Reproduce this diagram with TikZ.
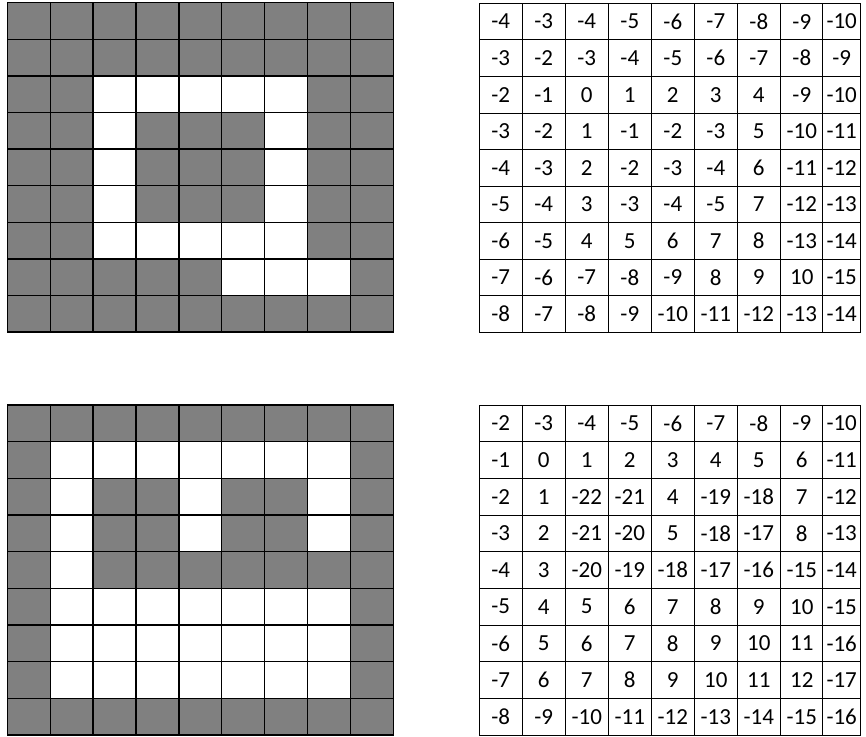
\documentclass[tikz,border=0pt]{standalone}
\usepackage{fontspec}
\setmainfont{Carlito}
\definecolor{cellgrey}{HTML}{808080}
\begin{document}
\begin{tikzpicture}[x=1pt, y=-1pt,
    gridline/.style={black, line width=1.3pt, line cap=rect},
    tableline/.style={black, line width=0.9pt, line cap=rect},
    numcell/.style={inner sep=0pt, font=\fontsize{23}{27}\selectfont}]
    \useasboundingbox (0,0) rectangle (866,736);

    % Top left grid: grey and white cells
    \foreach \pattern [count=\i] in {
        {1,1,1,1,1,1,1,1,1},
        {1,1,1,1,1,1,1,1,1},
        {1,1,0,0,0,0,0,1,1},
        {1,1,0,1,1,1,0,1,1},
        {1,1,0,1,1,1,0,1,1},
        {1,1,0,1,1,1,0,1,1},
        {1,1,0,0,0,0,0,1,1},
        {1,1,1,1,1,0,0,0,1},
        {1,1,1,1,1,1,1,1,1}}
        \foreach \c [count=\j] in \pattern {
            \ifnum\c=1
                \fill[cellgrey] ({7.3+42.89*(\j-1)},{2.7+36.6*(\i-1)}) rectangle ++(42.89,36.6);
            \fi
        }
    \foreach \k in {0,...,9} {
        \draw[gridline] ({7.3+42.89*\k},2.7) -- ({7.3+42.89*\k},332.1);
        \draw[gridline] (7.3,{2.7+36.6*\k}) -- (393.3,{2.7+36.6*\k});
    }

    % Bottom left grid
    \foreach \pattern [count=\i] in {
        {1,1,1,1,1,1,1,1,1},
        {1,0,0,0,0,0,0,0,1},
        {1,0,1,1,0,1,1,0,1},
        {1,0,1,1,0,1,1,0,1},
        {1,0,1,1,1,1,1,1,1},
        {1,0,0,0,0,0,0,0,1},
        {1,0,0,0,0,0,0,0,1},
        {1,0,0,0,0,0,0,0,1},
        {1,1,1,1,1,1,1,1,1}}
        \foreach \c [count=\j] in \pattern {
            \ifnum\c=1
                \fill[cellgrey] ({7.3+42.89*(\j-1)},{405+36.67*(\i-1)}) rectangle ++(42.89,36.67);
            \fi
        }
    \foreach \k in {0,...,9} {
        \draw[gridline] ({7.3+42.89*\k},405) -- ({7.3+42.89*\k},735);
        \draw[gridline] (7.3,{405+36.67*\k}) -- (393.3,{405+36.67*\k});
    }

    % Top right table
    \foreach \x in {479.3,522.3,565.3,608.3,651.3,694.3,737,780,822.7,860.7}
        \draw[tableline] (\x,3.3) -- (\x,332.3);
    \foreach \k in {0,...,9}
        \draw[tableline] (479.3,{3.3+36.56*\k}) -- (860.7,{3.3+36.56*\k});
    \foreach \vals [count=\i] in {
        {-4,-3,-4,-5,-6,-7,-8,-9,-10},
        {-3,-2,-3,-4,-5,-6,-7,-8,-9},
        {-2,-1,0,1,2,3,4,-9,-10},
        {-3,-2,1,-1,-2,-3,5,-10,-11},
        {-4,-3,2,-2,-3,-4,6,-11,-12},
        {-5,-4,3,-3,-4,-5,7,-12,-13},
        {-6,-5,4,5,6,7,8,-13,-14},
        {-7,-6,-7,-8,-9,8,9,10,-15},
        {-8,-7,-8,-9,-10,-11,-12,-13,-14}}
        \foreach \v [count=\j] in \vals
            \node[numcell] (a-\i-\j) at ({ifthenelse(\j==9,841.7,479.3+43*(\j-0.5))},{3.3+36.56*(\i-0.5)}) {\v};

    % Bottom right table
    \foreach \x in {479.3,522.3,565.3,608.3,651.3,694.3,737,780,822.7,860.7}
        \draw[tableline] (\x,405) -- (\x,735);
    \foreach \k in {0,...,9}
        \draw[tableline] (479.3,{405+36.67*\k}) -- (860.7,{405+36.67*\k});
    \foreach \vals [count=\i] in {
        {-2,-3,-4,-5,-6,-7,-8,-9,-10},
        {-1,0,1,2,3,4,5,6,-11},
        {-2,1,-22,-21,4,-19,-18,7,-12},
        {-3,2,-21,-20,5,-18,-17,8,-13},
        {-4,3,-20,-19,-18,-17,-16,-15,-14},
        {-5,4,5,6,7,8,9,10,-15},
        {-6,5,6,7,8,9,10,11,-16},
        {-7,6,7,8,9,10,11,12,-17},
        {-8,-9,-10,-11,-12,-13,-14,-15,-16}}
        \foreach \v [count=\j] in \vals
            \node[numcell] (b-\i-\j) at ({ifthenelse(\j==9,841.7,479.3+43*(\j-0.5))},{405+36.67*(\i-0.5)}) {\v};

\end{tikzpicture}
\end{document}
